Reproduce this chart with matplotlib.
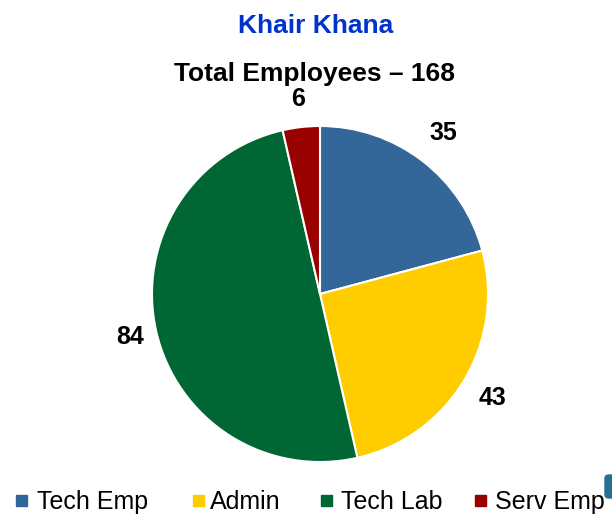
import numpy as np
import matplotlib.pyplot as plt
from matplotlib.patches import Rectangle, FancyBboxPatch

plt.rcParams['font.family'] = ['Liberation Sans', 'DejaVu Sans']

# data
categories = ['Tech Emp', 'Admin', 'Tech Lab', 'Serv Emp']
counts = [35, 43, 84, 6]
colors = ['#336699', '#FFCC00', '#006633', '#990000']

W, H = 612, 515
fig = plt.figure(figsize=(W / 100, H / 100), dpi=100)
ax = fig.add_axes([152 / W, 53 / H, 336 / W, 336 / H])

wedges, texts = ax.pie(counts, colors=colors, startangle=90, counterclock=False,
                       labels=[str(c) for c in counts], labeldistance=1.19,
                       wedgeprops=dict(edgecolor='white', linewidth=1.5),
                       textprops=dict(fontsize=18, fontweight='bold'))
# labels sit at slightly different distances in the original
label_r = [1.21, 1.20, 1.16, 1.17]
for t, w, r in zip(texts, wedges, label_r):
    ang = np.deg2rad((w.theta1 + w.theta2) / 2)
    t.set_position((r * np.cos(ang), r * np.sin(ang)))
    t.set_ha('center')
    t.set_va('center')
ax.set_xlim(-1, 1)
ax.set_ylim(-1, 1)
ax.set_aspect('equal')

fig.text(315.5 / W, 1 - 33 / H, 'Khair Khana', color='#0033CC', fontsize=19,
         fontweight='bold', ha='center', va='baseline')
fig.text(315 / W, 1 - 74 / H, 'Total Employees \u2013 168', fontsize=19,
         fontweight='bold', ha='center', va='center')

# legend along the bottom edge
sq_x = [16, 193, 321, 475]
txt_x = [37, 210, 341, 495]
for name, c, sx, tx in zip(categories, colors, sq_x, txt_x):
    fig.patches.append(Rectangle((sx / W, 1 - 506 / H), 11 / W, 11 / H,
                                 transform=fig.transFigure, color=c))
    fig.text(tx / W, 1 - 509 / H, name, fontsize=18, ha='left', va='baseline')

# small icon fragment at the right edge
fig.patches.append(FancyBboxPatch((605 / W, 1 - 498 / H), 10 / W, 23 / H,
                                  boxstyle='round,pad=0,rounding_size=0.006',
                                  transform=fig.transFigure, color='#2a6f8f'))

fig.savefig('out.png', dpi=100)
